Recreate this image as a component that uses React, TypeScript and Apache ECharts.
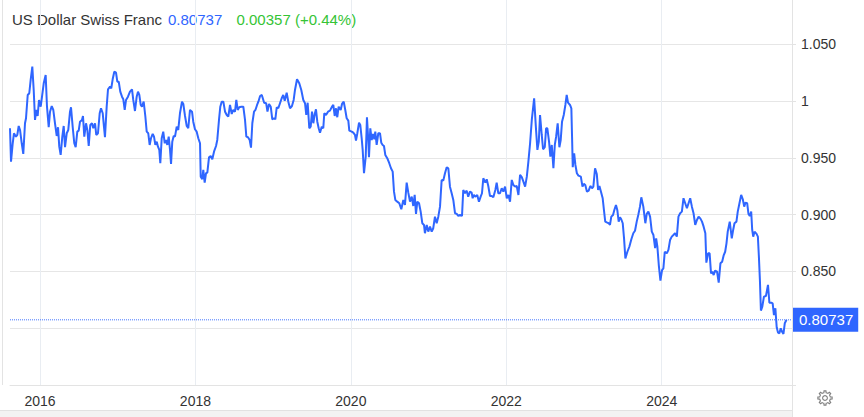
import React, { useEffect, useRef } from 'react';
import * as echarts from 'echarts';

// ---- Data ----
const titleText = 'US Dollar Swiss Franc';
const lastPrice = 0.80737;
const changeText = '0.00357 (+0.44%)';

const yearTicks = [2016, 2018, 2020, 2022, 2024];
const priceTicks = [0.75, 0.8, 0.85, 0.9, 0.95, 1.0, 1.05];
const priceLabels = [0.85, 0.9, 0.95, 1.0, 1.05];
const xRange = [2015.614, 2025.676];
const yRange = [0.75, 1.0889];

// decimal years
const years = [
  2015.614, 2015.627, 2015.649, 2015.665, 2015.691, 2015.708, 2015.726, 2015.743, 2015.765, 2015.785,
  2015.807, 2015.820, 2015.842, 2015.862, 2015.880, 2015.901, 2015.919, 2015.936, 2015.952, 2015.970,
  2015.987, 2016.009, 2016.026, 2016.048, 2016.073, 2016.090, 2016.112, 2016.129, 2016.151, 2016.171,
  2016.193, 2016.215, 2016.232, 2016.248, 2016.266, 2016.287, 2016.305, 2016.322, 2016.344, 2016.364,
  2016.386, 2016.399, 2016.421, 2016.441, 2016.459, 2016.480, 2016.498, 2016.515, 2016.540, 2016.553,
  2016.570, 2016.592, 2016.609, 2016.627, 2016.647, 2016.669, 2016.686, 2016.708, 2016.724, 2016.746,
  2016.768, 2016.785, 2016.807, 2016.823, 2016.836, 2016.858, 2016.875, 2016.901, 2016.917, 2016.935,
  2016.956, 2016.978, 2016.995, 2017.013, 2017.033, 2017.055, 2017.072, 2017.090, 2017.107, 2017.132,
  2017.158, 2017.184, 2017.200, 2017.222, 2017.244, 2017.261, 2017.278, 2017.296, 2017.312, 2017.334,
  2017.355, 2017.373, 2017.393, 2017.411, 2017.428, 2017.450, 2017.467, 2017.484, 2017.502, 2017.518,
  2017.535, 2017.548, 2017.566, 2017.586, 2017.605, 2017.621, 2017.638, 2017.656, 2017.673, 2017.686,
  2017.702, 2017.720, 2017.737, 2017.759, 2017.779, 2017.801, 2017.827, 2017.844, 2017.866, 2017.888,
  2017.908, 2017.930, 2017.956, 2017.972, 2017.994, 2018.016, 2018.037, 2018.059, 2018.068, 2018.088,
  2018.101, 2018.119, 2018.136, 2018.153, 2018.175, 2018.196, 2018.217, 2018.239, 2018.265, 2018.281,
  2018.303, 2018.320, 2018.338, 2018.359, 2018.381, 2018.403, 2018.423, 2018.445, 2018.467, 2018.487,
  2018.509, 2018.526, 2018.544, 2018.564, 2018.590, 2018.616, 2018.638, 2018.655, 2018.676, 2018.698,
  2018.715, 2018.732, 2018.754, 2018.772, 2018.793, 2018.810, 2018.832,
  2018.854, 2018.884, 2018.910, 2018.927, 2018.947, 2018.969, 2018.989, 2019.011, 2019.028, 2019.046,
  2019.066, 2019.088, 2019.110, 2019.130, 2019.149, 2019.174, 2019.195, 2019.217, 2019.242, 2019.264,
  2019.281, 2019.307, 2019.336, 2019.362, 2019.388, 2019.410, 2019.426, 2019.444, 2019.465, 2019.483,
  2019.500, 2019.517, 2019.535, 2019.551, 2019.568, 2019.586, 2019.603, 2019.625, 2019.645, 2019.658,
  2019.680, 2019.706, 2019.731, 2019.757, 2019.774, 2019.792, 2019.809, 2019.825, 2019.843, 2019.869,
  2019.886, 2019.908, 2019.928, 2019.946, 2019.967, 2019.980, 2020.011, 2020.031, 2020.053, 2020.066,
  2020.083, 2020.105, 2020.121, 2020.139, 2020.152, 2020.169, 2020.191, 2020.207, 2020.224, 2020.233,
  2020.250, 2020.268, 2020.285, 2020.302, 2020.314, 2020.332, 2020.353, 2020.375, 2020.391, 2020.409,
  2020.426, 2020.443, 2020.468, 2020.494, 2020.516, 2020.538, 2020.555, 2020.572, 2020.597, 2020.623,
  2020.649, 2020.675, 2020.696, 2020.718, 2020.739, 2020.761, 2020.783, 2020.803, 2020.821, 2020.838,
  2020.855, 2020.877, 2020.898, 2020.919, 2020.941, 2020.953, 2020.976, 2020.996, 2021.018, 2021.040,
  2021.060, 2021.082, 2021.104, 2021.125, 2021.147, 2021.168, 2021.189, 2021.211, 2021.233, 2021.254,
  2021.275, 2021.297, 2021.318, 2021.340, 2021.362, 2021.382, 2021.404, 2021.430, 2021.446, 2021.468,
  2021.490, 2021.510, 2021.532, 2021.554, 2021.567, 2021.583, 2021.600, 2021.626, 2021.648, 2021.670,
  2021.687, 2021.704, 2021.730, 2021.748, 2021.768, 2021.790, 2021.812, 2021.833, 2021.859, 2021.876,
  2021.897, 2021.919, 2021.941, 2021.962, 2021.984, 2022.006, 2022.027, 2022.048, 2022.070, 2022.091,
  2022.113, 2022.134, 2022.156, 2022.177,
  2022.199, 2022.220, 2022.242, 2022.264, 2022.284, 2022.306, 2022.328, 2022.358, 2022.380, 2022.400,
  2022.418, 2022.434, 2022.456, 2022.473, 2022.495, 2022.512, 2022.528, 2022.550, 2022.567, 2022.585,
  2022.606, 2022.624, 2022.641, 2022.661, 2022.683, 2022.700, 2022.717, 2022.739, 2022.760, 2022.777,
  2022.794, 2022.820, 2022.837, 2022.846, 2022.855, 2022.873, 2022.889, 2022.908, 2022.928, 2022.959,
  2022.980, 2022.998, 2023.016, 2023.038, 2023.060, 2023.081, 2023.103, 2023.120, 2023.142, 2023.164,
  2023.181, 2023.198, 2023.218, 2023.240, 2023.256, 2023.273, 2023.299, 2023.317, 2023.334, 2023.351,
  2023.373, 2023.390, 2023.411, 2023.428, 2023.446, 2023.463, 2023.479, 2023.498, 2023.515, 2023.532,
  2023.558, 2023.583, 2023.609, 2023.634, 2023.656, 2023.678, 2023.698, 2023.720, 2023.737, 2023.763,
  2023.789, 2023.807, 2023.828, 2023.850, 2023.872, 2023.893, 2023.915, 2023.928, 2023.944, 2023.962,
  2023.983, 2024.004, 2024.021, 2024.039, 2024.065, 2024.086, 2024.107, 2024.129, 2024.150, 2024.172,
  2024.194, 2024.215, 2024.237, 2024.259, 2024.280, 2024.302, 2024.324, 2024.345, 2024.366, 2024.388,
  2024.409, 2024.431, 2024.453, 2024.474, 2024.496, 2024.518, 2024.539, 2024.561, 2024.574, 2024.596,
  2024.616, 2024.634, 2024.651, 2024.668, 2024.686, 2024.712, 2024.733, 2024.755, 2024.777, 2024.798,
  2024.816, 2024.833, 2024.849, 2024.875, 2024.901, 2024.919, 2024.936, 2024.961, 2024.978, 2025.000,
  2025.022, 2025.043, 2025.061, 2025.077, 2025.099, 2025.116, 2025.133, 2025.151, 2025.164, 2025.177,
  2025.194, 2025.220, 2025.237, 2025.250, 2025.263, 2025.276, 2025.294, 2025.315, 2025.341, 2025.367,
  2025.385, 2025.410, 2025.427, 2025.444, 2025.462, 2025.479, 2025.496, 2025.514, 2025.531, 2025.548,
  2025.566, 2025.583, 2025.605,
];

const prices = [
  0.9760, 0.9466, 0.9628, 0.9716, 0.9686, 0.9701, 0.9780, 0.9745, 0.9628, 0.9534,
  0.9804, 0.9848, 1.0053, 1.0068, 1.0185, 1.0302, 1.0097, 0.9833, 0.9921, 0.9868,
  1.0009, 0.9950, 1.0038, 1.0156, 1.0229, 0.9950, 0.9769, 0.9906, 0.9956, 0.9921,
  0.9804, 0.9692, 0.9769, 0.9598, 0.9525, 0.9686, 0.9780, 0.9593, 0.9716, 0.9745,
  0.9906, 0.9945, 0.9769, 0.9628, 0.9593, 0.9730, 0.9739, 0.9818, 0.9833, 0.9868,
  0.9686, 0.9804, 0.9745, 0.9604, 0.9789, 0.9804, 0.9760, 0.9804, 0.9701, 0.9716,
  0.9892, 0.9936, 0.9892, 0.9774, 0.9681, 0.9950, 1.0103, 1.0126, 1.0112, 1.0191,
  1.0258, 1.0249, 1.0170, 1.0170, 1.0082, 1.0038, 1.0015, 0.9921, 1.0009, 1.0038,
  1.0082, 1.0103, 1.0009, 0.9912, 1.0038, 1.0082, 1.0053, 0.9965, 0.9950, 0.9994,
  0.9868, 0.9730, 0.9716, 0.9613, 0.9672, 0.9710, 0.9686, 0.9613, 0.9642, 0.9598,
  0.9569, 0.9452, 0.9672, 0.9730, 0.9628, 0.9657, 0.9613, 0.9686, 0.9569, 0.9446,
  0.9642, 0.9692, 0.9686, 0.9774, 0.9745, 0.9892, 0.9994, 0.9974, 0.9868, 0.9780,
  0.9760, 0.9921, 0.9906, 0.9818, 0.9751, 0.9730, 0.9672, 0.9628, 0.9334, 0.9311,
  0.9393, 0.9281, 0.9364, 0.9369, 0.9505, 0.9516, 0.9487, 0.9554, 0.9604, 0.9657,
  0.9833, 0.9950, 0.9994, 0.9994, 0.9906, 0.9877, 0.9862, 0.9965, 0.9886, 0.9921,
  0.9906, 1.0009, 0.9921, 0.9945, 0.9950, 0.9950, 0.9833, 0.9686, 0.9681, 0.9657,
  0.9589, 0.9804, 0.9906, 0.9921, 0.9965, 0.9994, 1.0044,
  1.0053, 0.9985, 0.9980, 0.9906, 0.9974, 0.9950, 0.9839, 0.9848, 0.9839, 0.9945,
  0.9936, 0.9980, 1.0024, 1.0053, 1.0003, 1.0073, 0.9994, 0.9936, 0.9956, 1.0009,
  1.0097, 1.0191, 1.0156, 1.0097, 1.0009, 0.9980, 0.9877, 0.9985, 0.9760, 0.9774,
  0.9906, 0.9804, 0.9886, 0.9927, 0.9818, 0.9760, 0.9721, 0.9774, 0.9760, 0.9892,
  0.9877, 0.9906, 0.9915, 0.9950, 0.9965, 0.9868, 0.9936, 0.9857, 0.9950, 0.9921,
  0.9974, 0.9994, 0.9921, 0.9848, 0.9827, 0.9739, 0.9730, 0.9721, 0.9701, 0.9651,
  0.9716, 0.9809, 0.9789, 0.9672, 0.9569, 0.9364, 0.9510, 0.9857, 0.9657, 0.9505,
  0.9760, 0.9657, 0.9710, 0.9663, 0.9730, 0.9613, 0.9716, 0.9716, 0.9633, 0.9613,
  0.9604, 0.9525, 0.9496, 0.9452, 0.9408, 0.9378, 0.9202, 0.9129, 0.9114, 0.9100,
  0.9047, 0.9129, 0.9085, 0.9281, 0.9193, 0.9114, 0.9158, 0.9076, 0.9173, 0.9006,
  0.9114, 0.9100, 0.9026, 0.8924, 0.8909, 0.8836, 0.8909, 0.8850, 0.8894, 0.8850,
  0.8880, 0.8982, 0.8924, 0.8982, 0.9070, 0.9305, 0.9299, 0.9364, 0.9417, 0.9408,
  0.9246, 0.9188, 0.9129, 0.9012, 0.9006, 0.8988, 0.8997, 0.8988, 0.9217, 0.9188,
  0.9211, 0.9158, 0.9202, 0.9193, 0.9144, 0.9173, 0.9158, 0.9173, 0.9114, 0.9158,
  0.9188, 0.9320, 0.9281, 0.9311, 0.9252, 0.9164, 0.9164, 0.9152, 0.9217, 0.9281,
  0.9188, 0.9188, 0.9232, 0.9202, 0.9246, 0.9144, 0.9173, 0.9114, 0.9305, 0.9261,
  0.9246, 0.9252, 0.9173, 0.9349,
  0.9329, 0.9290, 0.9246, 0.9334, 0.9466, 0.9628, 0.9833, 1.0024, 0.9774, 0.9569,
  0.9642, 0.9877, 0.9701, 0.9575, 0.9593, 0.9760, 0.9760, 0.9642, 0.9510, 0.9613,
  0.9408, 0.9613, 0.9686, 0.9804, 0.9593, 0.9657, 0.9818, 0.9877, 0.9965, 1.0053,
  0.9985, 0.9965, 0.9936, 0.9686, 0.9417, 0.9540, 0.9437, 0.9364, 0.9343, 0.9334,
  0.9246, 0.9270, 0.9261, 0.9202, 0.9211, 0.9252, 0.9232, 0.9246, 0.9408, 0.9358,
  0.9217, 0.9252, 0.9202, 0.9144, 0.9041, 0.8938, 0.8929, 0.8924, 0.8909, 0.8982,
  0.8997, 0.9041, 0.9085, 0.9041, 0.8938, 0.8976, 0.8959, 0.8924, 0.8791, 0.8615,
  0.8673, 0.8717, 0.8783, 0.8836, 0.8858, 0.8938, 0.8997, 0.9070, 0.9152, 0.9070,
  0.8924, 0.9006, 0.9026, 0.8982, 0.8850, 0.8820, 0.8704, 0.8791, 0.8717, 0.8556,
  0.8418, 0.8512, 0.8527, 0.8673, 0.8659, 0.8689, 0.8776, 0.8806, 0.8820, 0.8836,
  0.8806, 0.8982, 0.9012, 0.9026, 0.9144, 0.9100, 0.9056, 0.9100, 0.9144, 0.9070,
  0.9012, 0.8909, 0.8953, 0.8982, 0.8967, 0.8938, 0.8894, 0.8836, 0.8577, 0.8659,
  0.8659, 0.8483, 0.8497, 0.8468, 0.8507, 0.8497, 0.8401, 0.8571, 0.8585, 0.8644,
  0.8673, 0.8747, 0.8850, 0.8938, 0.8791, 0.8865, 0.8924, 0.8938, 0.9026, 0.9100,
  0.9173, 0.9135, 0.9070, 0.9105, 0.9100, 0.9006, 0.8988, 0.9026, 0.8865, 0.8806,
  0.8850, 0.8830, 0.8806, 0.8630, 0.8425, 0.8155, 0.8190, 0.8278, 0.8284, 0.8381,
  0.8225, 0.8225, 0.8219, 0.8116, 0.8175, 0.8008, 0.7961, 0.7955, 0.7999, 0.7970,
  0.7950, 0.8043, 0.80737,
];

const FONT = '"Liberation Sans", Arial, Helvetica, sans-serif';
const BLUE = '#2f66ff';
const DOT_BLUE = '#4576ff';
const GREEN = '#35c435';

function gearPoints(cx: number, cy: number, rOut: number, rIn: number, teeth: number) {
  const pts: number[][] = [];
  const step = (Math.PI * 2) / teeth;
  for (let k = 0; k < teeth; k++) {
    const a = k * step;
    const add = (r: number, ang: number) => pts.push([cx + r * Math.cos(ang), cy + r * Math.sin(ang)]);
    add(rIn, a - step * 0.5);
    add(rIn, a - step * 0.27);
    add(rOut, a - step * 0.17);
    add(rOut, a + step * 0.17);
    add(rIn, a + step * 0.27);
  }
  return pts;
}

export default function App() {
  const ref = useRef<HTMLDivElement>(null);

  useEffect(() => {
    if (!ref.current) return;
    const chart = echarts.init(ref.current, null, { renderer: 'svg' });
    const n = Math.min(years.length, prices.length);
    const data: number[][] = [];
    for (let i = 0; i < n; i++) data.push([years[i], prices[i]]);
    const lastLine = [
      [xRange[0], lastPrice],
      [xRange[1], lastPrice],
    ];

    chart.setOption({
      animation: false,
      textStyle: { fontFamily: FONT },
      grid: { left: 10, right: 72, top: 0, bottom: 32, containLabel: false },
      xAxis: {
        type: 'value',
        min: xRange[0],
        max: xRange[1],
        axisLine: { show: true, lineStyle: { color: '#e3e3e3', width: 1 } },
        axisTick: { show: false, customValues: yearTicks },
        axisLabel: {
          customValues: yearTicks,
          formatter: (v: number) => String(Math.round(v)),
          color: '#333',
          fontSize: 14,
          fontFamily: FONT,
          margin: 9,
        },
        splitLine: { show: true, lineStyle: { color: '#e9edf2', width: 1 } },
      },
      yAxis: {
        type: 'value',
        position: 'right',
        min: yRange[0],
        max: yRange[1],
        axisLine: { show: true, lineStyle: { color: '#e3e3e3', width: 1 } },
        axisTick: { show: true, customValues: priceTicks, length: 4, lineStyle: { color: '#e3e3e3' } },
        axisLabel: {
          customValues: priceLabels,
          formatter: (v: number) => (Math.abs(v - 1) < 1e-9 ? '1' : v.toFixed(3)),
          color: '#333',
          fontSize: 14,
          fontFamily: FONT,
          margin: 9,
        },
        splitLine: { show: true, lineStyle: { color: '#e6e6e6', width: 1 } },
      },
      series: [
        {
          type: 'line',
          data: lastLine,
          showSymbol: false,
          symbol: 'none',
          silent: true,
          z: 1,
          color: DOT_BLUE,
          lineStyle: { color: DOT_BLUE, width: 1, type: [1, 1] },
          endLabel: {
            show: true,
            distance: 1,
            formatter: () => String(lastPrice),
            backgroundColor: BLUE,
            color: '#ffffff',
            fontSize: 15,
            fontFamily: FONT,
            padding: [5, 5, 4, 6],
          },
        },
        {
          type: 'line',
          data,
          showSymbol: false,
          symbol: 'none',
          silent: true,
          z: 3,
          color: BLUE,
          lineStyle: { color: BLUE, width: 2 },
        },
      ],
      graphic: [
        {
          type: 'line',
          silent: true,
          shape: { x1: 792.5, y1: 385, x2: 792.5, y2: 417 },
          style: { stroke: '#e3e3e3', lineWidth: 1 },
        },
        {
          type: 'line',
          silent: true,
          shape: { x1: 2.5, y1: 0, x2: 2.5, y2: 385 },
          style: { stroke: '#e3e3e3', lineWidth: 1 },
        },
        {
          type: 'rect',
          silent: true,
          shape: { x: 0, y: 410, width: 792, height: 7 },
          style: { fill: '#f3f3f3', stroke: null },
        },
        {
          type: 'line',
          silent: true,
          shape: { x1: 0, y1: 410.5, x2: 792, y2: 410.5 },
          style: { stroke: '#e2e2e2', lineWidth: 1 },
        },
        {
          type: 'text',
          silent: true,
          x: 12,
          y: 19,
          style: { text: titleText, fill: '#333', font: `15px ${FONT}`, verticalAlign: 'middle', align: 'left' },
        },
        {
          type: 'text',
          silent: true,
          x: 168,
          y: 19,
          style: { text: String(lastPrice), fill: BLUE, font: `15px ${FONT}`, verticalAlign: 'middle', align: 'left' },
        },
        {
          type: 'text',
          silent: true,
          x: 236.5,
          y: 19,
          style: { text: changeText, fill: GREEN, font: `15px ${FONT}`, verticalAlign: 'middle', align: 'left' },
        },
        {
          type: 'polygon',
          silent: true,
          shape: { points: gearPoints(825, 398, 7.2, 5.4, 8) },
          style: { fill: 'none', stroke: '#808080', lineWidth: 1.1 },
        },
        {
          type: 'circle',
          silent: true,
          shape: { cx: 825, cy: 398, r: 2.4 },
          style: { fill: 'none', stroke: '#808080', lineWidth: 1.1 },
        },
      ],
    });

    return () => chart.dispose();
  }, []);

  return (
    <div
      ref={ref}
      style={{ position: 'absolute', left: 0, top: 0, width: 864, height: 417, background: '#fff' }}
    />
  );
}
